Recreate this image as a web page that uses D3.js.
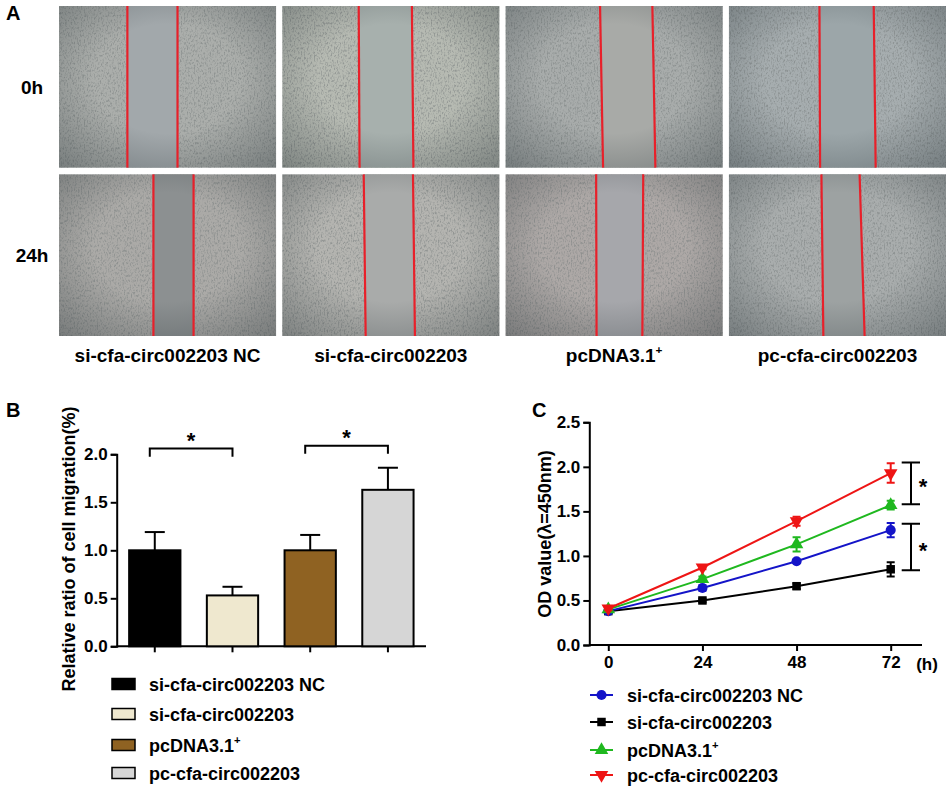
<!DOCTYPE html>
<html>
<head>
<meta charset="utf-8">
<script src="https://cdn.jsdelivr.net/npm/d3@7"></script>
<style>
  body { margin: 0; background: #fff; }
  svg text { font-family: "Liberation Sans", Arial, sans-serif; font-weight: bold; fill: #000; }
</style>
</head>
<body>
<script>
// ── Données ─────────────────────────────────────────────────────────
const groups = ['si-cfa-circ002203 NC', 'si-cfa-circ002203', 'pcDNA3.1+', 'pc-cfa-circ002203'];
const timeRows = ['0h', '24h'];

// bords de la plaie (fraction de largeur, haut/bas) par image
const woundLeft = [
  [[0.315, 0.315], [0.352, 0.356], [0.435, 0.449], [0.417, 0.420]],
  [[0.435, 0.435], [0.375, 0.384], [0.417, 0.419], [0.426, 0.435]],
];
const woundRight = [
  [[0.546, 0.546], [0.597, 0.604], [0.676, 0.690], [0.667, 0.676]],
  [[0.620, 0.620], [0.602, 0.611], [0.634, 0.630], [0.602, 0.625]],
];

const migrationMean = [1.0, 0.53, 1.0, 1.63];
const migrationErr  = [0.19, 0.09, 0.16, 0.23];
const migrationTicks = [0, 0.5, 1.0, 1.5, 2.0];
const migrationSig = [[0, 1, 2.06], [2, 3, 2.09]];

const hours = [0, 24, 48, 72];
const odNC     = [0.38, 0.64, 0.94, 1.29];
const odNCErr  = [0.02, 0.03, 0.02, 0.08];
const odSi     = [0.38, 0.50, 0.66, 0.85];
const odSiErr  = [0.02, 0.02, 0.03, 0.08];
const odPc     = [0.40, 0.74, 1.13, 1.57];
const odPcErr  = [0.02, 0.03, 0.08, 0.05];
const odPcCirc    = [0.41, 0.87, 1.39, 1.93];
const odPcCircErr = [0.02, 0.02, 0.05, 0.11];
const odTicks = [0, 0.5, 1.0, 1.5, 2.0, 2.5];
const odSig = [[2.05, 1.58], [1.36, 0.84]];

const BAR_COLORS = ['#000000', '#efe8cf', '#8f6222', '#d6d6d6'];
const LINE_COLORS = ['#1414c8', '#000000', '#1fb81f', '#ee1515'];
const SYMBOLS = [d3.symbolCircle, d3.symbolSquare, d3.symbolTriangle, d3.symbolTriangle];

const svg = d3.select('body').append('svg').attr('width', 946).attr('height', 786);
const defs = svg.append('defs');

// texte avec exposant "+" final
function labelText(sel, str, size) {
  if (str.endsWith('+')) {
    sel.text(str.slice(0, -1));
    sel.append('tspan').attr('dy', -size * 0.42).attr('font-size', size * 0.62).text('+');
  } else sel.text(str);
  return sel;
}

// ── Panneau A : images de cicatrisation ─────────────────────────────
const imgBase = [
  ['#abaeab', '#b6bab2', '#a8acab', '#a6adaf'],
  ['#abaaa7', '#b4b4b0', '#ada8a6', '#a9adad'],
];
const gapColor = [
  ['#a2a8ab', '#a7b0ad', '#a8aaa7', '#9ca6a9'],
  ['#8c9091', '#a9abaa', '#a6a7ab', '#9da2a2'],
];

const f = defs.append('filter').attr('id', 'cells').attr('x', 0).attr('y', 0).attr('width', 1).attr('height', 1);
f.append('feTurbulence').attr('type', 'fractalNoise').attr('baseFrequency', '0.7 0.4')
  .attr('numOctaves', 2).attr('seed', 4).attr('result', 'n');
f.append('feColorMatrix').attr('in', 'n').attr('type', 'matrix')
  .attr('values', '0 0 0 0 0.2  0 0 0 0 0.22  0 0 0 0 0.22  -3.2 0 0 0 1.7').attr('result', 's');
f.append('feComposite').attr('in', 's').attr('in2', 'SourceGraphic').attr('operator', 'in');

const vig = defs.append('radialGradient').attr('id', 'vig').attr('cx', '50%').attr('cy', '45%').attr('r', '75%');
vig.append('stop').attr('offset', '45%').attr('stop-color', '#2a3438').attr('stop-opacity', 0);
vig.append('stop').attr('offset', '100%').attr('stop-color', '#2a3438').attr('stop-opacity', 0.4);

const colX = d3.scaleBand().domain(d3.range(4)).range([59, 946]).paddingInner(0.028);
const rowY = d3.scaleBand().domain(d3.range(2)).range([6, 336]).paddingInner(0.04);

const gA = svg.append('g');
timeRows.forEach((t, r) => {
  gA.append('text').attr('x', 32).attr('y', rowY(r) + rowY.bandwidth() / 2 + 7)
    .attr('text-anchor', 'middle').attr('font-size', 19).text(t);
  groups.forEach((g, c) => {
    const x0 = colX(c), y0 = rowY(r), w = colX.bandwidth(), h = rowY.bandwidth();
    const fx = d3.scaleLinear().domain([0, 1]).range([x0, x0 + w]);
    const cell = gA.append('g');
    cell.append('rect').attr('x', x0).attr('y', y0).attr('width', w).attr('height', h).attr('fill', imgBase[r][c]);
    cell.append('rect').attr('x', x0).attr('y', y0).attr('width', w).attr('height', h)
      .attr('fill', '#000').attr('filter', 'url(#cells)').attr('opacity', 0.6);
    const L = woundLeft[r][c], R = woundRight[r][c];
    cell.append('path')
      .attr('d', `M${fx(L[0])},${y0}L${fx(R[0])},${y0}L${fx(R[1])},${y0 + h}L${fx(L[1])},${y0 + h}Z`)
      .attr('fill', gapColor[r][c]);
    cell.append('rect').attr('x', x0).attr('y', y0).attr('width', w).attr('height', h).attr('fill', 'url(#vig)');
    [L, R].forEach(e => {
      cell.append('line').attr('x1', fx(e[0])).attr('y1', y0).attr('x2', fx(e[1])).attr('y2', y0 + h)
        .attr('stroke', '#e8202a').attr('stroke-width', 2.2);
    });
  });
});
groups.forEach((g, c) => {
  labelText(gA.append('text').attr('x', colX(c) + colX.bandwidth() / 2).attr('y', 362)
    .attr('text-anchor', 'middle').attr('font-size', 19), g, 19);
});
gA.append('text').attr('x', 6).attr('y', 20).attr('font-size', 20).text('A');

// ── Panneau B : histogramme ─────────────────────────────────────────
const gB = svg.append('g');
gB.append('text').attr('x', 6).attr('y', 417).attr('font-size', 20).text('B');

const xB = d3.scaleBand().domain(d3.range(4)).range([116.7, 426]).paddingInner(0.34).paddingOuter(0.16);
const yB = d3.scaleLinear().domain([0, 2]).range([646.3, 454.3]);

const axB = gB.append('g').attr('transform', 'translate(116.7,0)')
  .call(d3.axisLeft(yB).tickValues(migrationTicks).tickFormat(d3.format('.1f')).tickSize(6).tickPadding(3));
const axBx = gB.append('g').attr('transform', `translate(0,${yB(0)})`)
  .call(d3.axisBottom(xB).tickSize(6).tickFormat(''));
[axB, axBx].forEach(a => {
  a.selectAll('.domain, line').attr('stroke', '#000').attr('stroke-width', 2);
  a.selectAll('text').attr('font-size', 17).attr('font-family', null);
});
axBx.select('.domain').attr('d', `M116.7,0H426`);

gB.selectAll('.err').data(migrationMean).join('g').each(function (d, i) {
  const cx = xB(i) + xB.bandwidth() / 2;
  const g = d3.select(this);
  g.append('line').attr('x1', cx).attr('x2', cx).attr('y1', yB(d)).attr('y2', yB(d + migrationErr[i]))
    .attr('stroke', '#000').attr('stroke-width', 2);
  g.append('line').attr('x1', cx - 10).attr('x2', cx + 10)
    .attr('y1', yB(d + migrationErr[i])).attr('y2', yB(d + migrationErr[i]))
    .attr('stroke', '#000').attr('stroke-width', 2);
});

gB.selectAll('.bar').data(migrationMean).join('rect')
  .attr('x', (d, i) => xB(i)).attr('y', d => yB(d))
  .attr('width', xB.bandwidth()).attr('height', d => yB(0) - yB(d))
  .attr('fill', (d, i) => BAR_COLORS[i]).attr('stroke', '#000').attr('stroke-width', 2);

migrationSig.forEach(([a, b, v]) => {
  const xa = xB(a) + xB.bandwidth() / 2 - 5, xb = xB(b) + xB.bandwidth() / 2;
  gB.append('path')
    .attr('d', `M${xa},${yB(v - 0.085)}V${yB(v)}H${xb}V${yB(v - 0.085)}`)
    .attr('fill', 'none').attr('stroke', '#000').attr('stroke-width', 2);
  gB.append('text').attr('x', (xa + xb) / 2).attr('y', yB(v) - 0.5)
    .attr('text-anchor', 'middle').attr('font-size', 22).text('*');
});

gB.append('text').attr('transform', `translate(75,549) rotate(-90)`)
  .attr('text-anchor', 'middle').attr('font-size', 18).text('Relative ratio of cell migration(%)');

const legB = gB.selectAll('.legB').data(groups).join('g')
  .attr('transform', (d, i) => `translate(112,${[684, 714, 745, 773][i]})`);
legB.append('rect').attr('x', 0).attr('y', -5.5).attr('width', 23).attr('height', 11)
  .attr('fill', (d, i) => BAR_COLORS[i]).attr('stroke', '#000').attr('stroke-width', 1.5);
legB.append('text').attr('x', 37).attr('y', 6.5).attr('font-size', 18)
  .each(function (d) { labelText(d3.select(this), d, 18); });

// ── Panneau C : courbes de prolifération ────────────────────────────
const gC = svg.append('g');
gC.append('text').attr('x', 532).attr('y', 417).attr('font-size', 20).text('C');

const xC = d3.scaleLinear().domain([0, 72]).range([608.3, 890.7]);
const yC = d3.scaleLinear().domain([0, 2.5]).range([645, 422.3]);

const axC = gC.append('g').attr('transform', 'translate(589.3,0)')
  .call(d3.axisLeft(yC).tickValues(odTicks).tickFormat(d3.format('.1f')).tickSize(6).tickPadding(3));
const axCx = gC.append('g').attr('transform', `translate(0,${yC(0)})`)
  .call(d3.axisBottom(xC).tickValues(hours).tickSize(6).tickPadding(5));
[axC, axCx].forEach(a => {
  a.selectAll('.domain, line').attr('stroke', '#000').attr('stroke-width', 2);
  a.selectAll('text').attr('font-size', 17).attr('font-family', null);
});
axCx.select('.domain').attr('d', 'M589.3,0H922');
gC.append('text').attr('x', 927).attr('y', 670).attr('text-anchor', 'middle').attr('font-size', 17).text('(h)');

gC.append('text').attr('transform', 'translate(551,534) rotate(-90)')
  .attr('text-anchor', 'middle').attr('font-size', 18).text('OD value(λ=450nm)');

const series = [
  { name: groups[0], v: odNC, e: odNCErr },
  { name: groups[1], v: odSi, e: odSiErr },
  { name: groups[2], v: odPc, e: odPcErr },
  { name: groups[3], v: odPcCirc, e: odPcCircErr },
];
const line = d3.line().x((d, i) => xC(hours[i])).y(d => yC(d));
const symSize = [80, 72, 80, 80];
const symRot = [0, 0, 0, 180];

function marker(g, i, x, y) {
  g.append('path').attr('d', d3.symbol(SYMBOLS[i], symSize[i])())
    .attr('transform', `translate(${x},${y}) rotate(${symRot[i]})`)
    .attr('fill', LINE_COLORS[i]);
}

[1, 0, 2, 3].forEach(i => {
  const s = series[i];
  const g = gC.append('g');
  g.append('path').attr('d', line(s.v)).attr('fill', 'none')
    .attr('stroke', LINE_COLORS[i]).attr('stroke-width', 2);
  s.v.forEach((v, j) => {
    const x = xC(hours[j]);
    g.append('path')
      .attr('d', `M${x - 4},${yC(v + s.e[j])}H${x + 4}M${x},${yC(v + s.e[j])}V${yC(v - s.e[j])}M${x - 4},${yC(v - s.e[j])}H${x + 4}`)
      .attr('stroke', LINE_COLORS[i]).attr('stroke-width', 2).attr('fill', 'none');
    marker(g, i, x, yC(v));
  });
});

odSig.forEach(([hi, lo]) => {
  gC.append('path').attr('d', `M901.7,${yC(hi)}H920M911,${yC(hi)}V${yC(lo)}M901.7,${yC(lo)}H920`)
    .attr('stroke', '#000').attr('stroke-width', 2).attr('fill', 'none');
  gC.append('text').attr('x', 923).attr('y', (yC(hi) + yC(lo)) / 2 + 11)
    .attr('text-anchor', 'middle').attr('font-size', 22).text('*');
});

const legC = gC.selectAll('.legC').data(series).join('g')
  .attr('transform', (d, i) => `translate(590,${[695, 722, 750, 775][i]})`);
legC.append('line').attr('x1', 0).attr('x2', 23).attr('stroke', (d, i) => LINE_COLORS[i]).attr('stroke-width', 2);
legC.each(function (d, i) { marker(d3.select(this), i, 11.5, 0); });
legC.append('text').attr('x', 37).attr('y', 6.5).attr('font-size', 18)
  .each(function (d) { labelText(d3.select(this), d.name, 18); });
</script>
</body>
</html>
